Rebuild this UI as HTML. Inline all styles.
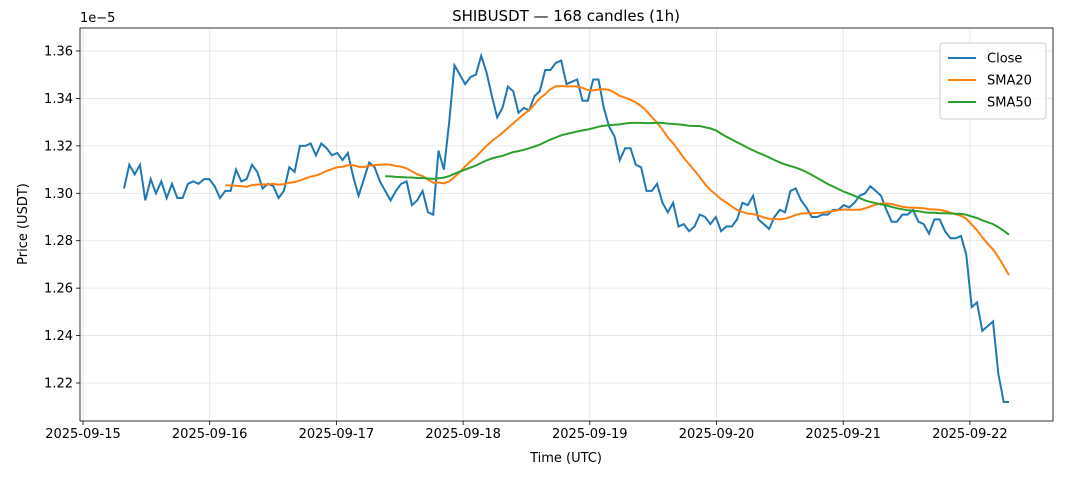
<!DOCTYPE html><html><head><meta charset="utf-8"><style>body{margin:0;background:#fff}svg{display:block;font-family:"DejaVu Sans","Liberation Sans",sans-serif}</style></head><body>
<svg id="s" width="1068" height="481" xmlns="http://www.w3.org/2000/svg"></svg>
<script>
const c=[1.302,1.312,1.308,1.312,1.297,1.306,1.300,1.305,1.298,1.304,1.298,1.298,1.304,1.305,1.304,1.306,1.306,1.303,1.298,1.301,1.301,1.310,1.305,1.306,1.312,1.309,1.302,1.304,1.303,1.298,1.301,1.311,1.309,1.320,1.320,1.321,1.316,1.321,1.319,1.316,1.317,1.314,1.317,1.307,1.299,1.306,1.313,1.311,1.305,1.301,1.297,1.301,1.304,1.305,1.295,1.297,1.301,1.292,1.291,1.318,1.310,1.330,1.354,1.350,1.346,1.349,1.350,1.358,1.351,1.341,1.332,1.336,1.345,1.343,1.334,1.336,1.335,1.341,1.343,1.352,1.352,1.355,1.356,1.346,1.347,1.348,1.339,1.339,1.348,1.348,1.336,1.328,1.324,1.314,1.319,1.319,1.312,1.311,1.301,1.301,1.304,1.296,1.292,1.296,1.286,1.287,1.284,1.286,1.291,1.290,1.287,1.290,1.284,1.286,1.286,1.289,1.296,1.295,1.299,1.289,1.287,1.285,1.290,1.293,1.292,1.301,1.302,1.297,1.294,1.290,1.290,1.291,1.291,1.293,1.293,1.295,1.294,1.296,1.299,1.300,1.303,1.301,1.299,1.293,1.288,1.288,1.291,1.291,1.293,1.288,1.287,1.283,1.289,1.289,1.284,1.281,1.281,1.282,1.274,1.252,1.254,1.242,1.244,1.246,1.224,1.212,1.212];
const n=c.length,X=i=>124+i*(1009-124)/(n-1),Y=v=>51+(1.36-v)/0.02*47.43;
let h='';
const L=80,R=1053,T=28,B=421;
for(let d=0;d<8;d++){const x=83+d*126.7;h+=`<line x1="${x}" y1="${T}" x2="${x}" y2="${B}" stroke="#b0b0b0" stroke-opacity=".35" stroke-width=".8"/><line x1="${x}" y1="${B}" x2="${x}" y2="${B+4}" stroke="#000" stroke-width=".8"/><text x="${x}" y="${B+17}" font-size="13" text-anchor="middle">2025-09-${15+d}</text>`;}
for(let k=0;k<8;k++){const v=1.22+k*0.02,y=Y(v);h+=`<line x1="${L}" y1="${y}" x2="${R}" y2="${y}" stroke="#b0b0b0" stroke-opacity=".35" stroke-width=".8"/><line x1="${L-4}" y1="${y}" x2="${L}" y2="${y}" stroke="#000" stroke-width=".8"/><text x="${L-7}" y="${y+4.5}" font-size="13" text-anchor="end">${v.toFixed(2)}</text>`;}
function path(a,col){let p='';a.forEach((v,i)=>{if(v!=null)p+=(p?'L':'M')+X(i).toFixed(1)+','+Y(v).toFixed(1)});return `<path d="${p}" fill="none" stroke="${col}" stroke-width="2"/>`;}
function sma(w){return c.map((_,i)=>i<w-1?null:c.slice(i-w+1,i+1).reduce((a,b)=>a+b)/w);}
h+=path(c,'#1f77b4')+path(sma(20),'#ff7f0e')+path(sma(50),'#2ca02c');
h+=`<rect x="${L}" y="${T}" width="${R-L}" height="${B-T}" fill="none" stroke="#000" stroke-width=".8"/>`;
h+=`<text x="566" y="21" font-size="15" text-anchor="middle">SHIBUSDT — 168 candles (1h)</text>`;
h+=`<text x="566" y="462" font-size="13" text-anchor="middle">Time (UTC)</text>`;
h+=`<text transform="translate(27,224) rotate(-90)" font-size="13" text-anchor="middle">Price (USDT)</text>`;
h+=`<text x="80" y="22" font-size="13">1e−5</text>`;
h+=`<rect x="940" y="43" width="106" height="76" rx="3" fill="#fff" fill-opacity=".8" stroke="#ccc"/>`;
[['Close','#1f77b4'],['SMA20','#ff7f0e'],['SMA50','#2ca02c']].forEach((e,i)=>{const y=58+i*22;h+=`<line x1="948" y1="${y}" x2="976" y2="${y}" stroke="${e[1]}" stroke-width="2"/><text x="987" y="${y+4.5}" font-size="13">${e[0]}</text>`});
document.getElementById('s').innerHTML=h;
</script></body></html>
